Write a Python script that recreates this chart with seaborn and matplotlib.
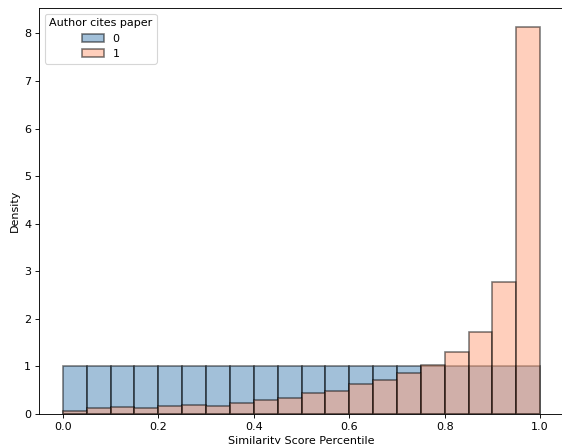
import numpy as np
import pandas as pd
import matplotlib
matplotlib.use("Agg")
import matplotlib.pyplot as plt
import seaborn as sns

# 20 equal bins over the percentile range
n_bins = 20
bin_edges = np.linspace(0.0, 1.0, n_bins + 1)
bin_centers = (bin_edges[:-1] + bin_edges[1:]) / 2

# Per-bin density for each group
groups = [0, 1]
density_not_cited = [1.0] * 20
density_cited = [0.07, 0.13, 0.14, 0.12, 0.17, 0.19, 0.17, 0.24, 0.29, 0.34,
                 0.45, 0.48, 0.64, 0.72, 0.87, 1.03, 1.30, 1.73, 2.78, 8.12]
colors = {0: "steelblue", 1: "lightsalmon"}

df = pd.DataFrame({
    "Similarity Score Percentile": np.concatenate([bin_centers, bin_centers]),
    "weight": np.concatenate([density_not_cited, density_cited]),
    "Author cites paper": [0] * 20 + [1] * 20,
})

fig = plt.figure(figsize=(562 / 80, 444 / 80), dpi=80)
ax = fig.add_axes([39 / 562, 30 / 444, 525 / 562, 406 / 444])

# Group 0 first, group 1 layered on top
for g in groups:
    sub = df[df["Author cites paper"] == g]
    sns.histplot(
        data=sub,
        x="Similarity Score Percentile",
        weights="weight",
        bins=n_bins,
        binrange=(0.0, 1.0),
        stat="density",
        color=colors[g],
        alpha=0.5,
        edgecolor=(0, 0, 0, 0.5),
        linewidth=1.5,
        label=str(g),
        ax=ax,
    )

ax.spines["right"].set_visible(False)
ax.set_xlabel("Similarity Score Percentile")
ax.set_ylabel("Density")
ax.legend(title="Author cites paper", loc="upper left")

fig.savefig("out.png", dpi=80)
